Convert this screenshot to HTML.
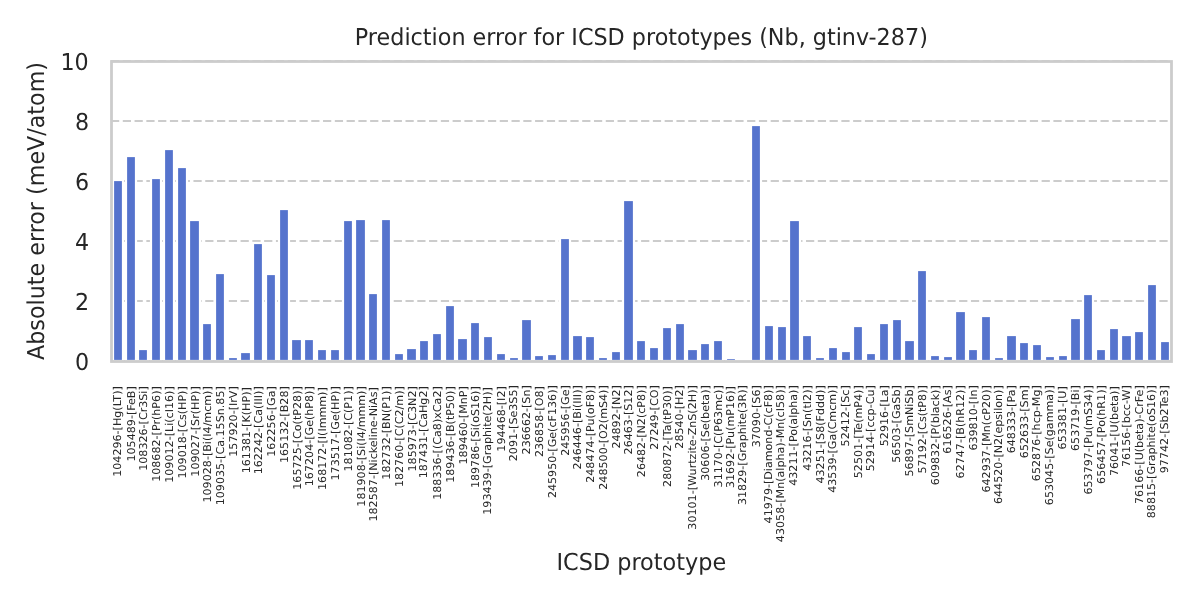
<!DOCTYPE html>
<html lang="en"><head><meta charset="utf-8">
<title>Prediction error for ICSD prototypes (Nb, gtinv-287)</title>
<style>
html,body{margin:0;padding:0;background:#fff;}
body{width:1200px;height:600px;overflow:hidden;}
svg{display:block;}
text{font-family:"DejaVu Sans","Liberation Sans",sans-serif;fill:#262626;text-rendering:geometricPrecision;}
.t{font-size:22.33px;}
.x{font-size:11.11px;text-anchor:end;}
.y{font-size:22.22px;text-anchor:end;}
.g{stroke:#cccccc;stroke-width:2.22;stroke-dasharray:8.22 3.56;fill:none;}
.b{fill:#5573cd;stroke:#fff;stroke-width:2.22;stroke-linejoin:miter;}
</style></head><body>
<svg width="1200" height="600" viewBox="0 0 1200 600">
<rect width="1200" height="600" fill="#fff"/>
<g>
<path class="g" d="M111 361H1171"/>
<path class="g" d="M111 301H1171"/>
<path class="g" d="M111 241H1171"/>
<path class="g" d="M111 181H1171"/>
<path class="g" d="M111 121H1171"/>
<path class="g" d="M111 61H1171"/>
</g>
<defs><clipPath id="ax"><rect x="111.46" y="61.47" width="1059.74" height="299.93"/></clipPath></defs>
<g clip-path="url(#ax)">
<rect class="b" x="113" y="180" width="10" height="181"/>
<rect class="b" x="126" y="156" width="10" height="205"/>
<rect class="b" x="138" y="349" width="10" height="12"/>
<rect class="b" x="151" y="178" width="10" height="183"/>
<rect class="b" x="164" y="149" width="10" height="212"/>
<rect class="b" x="177" y="167" width="10" height="194"/>
<rect class="b" x="189" y="220" width="11" height="141"/>
<rect class="b" x="202" y="323" width="10" height="38"/>
<rect class="b" x="215" y="273" width="10" height="88"/>
<rect class="b" x="228" y="357" width="10" height="4"/>
<rect class="b" x="240" y="352" width="11" height="9"/>
<rect class="b" x="253" y="243" width="10" height="118"/>
<rect class="b" x="266" y="274" width="10" height="87"/>
<rect class="b" x="279" y="209" width="10" height="152"/>
<rect class="b" x="291" y="339" width="11" height="22"/>
<rect class="b" x="304" y="339" width="10" height="22"/>
<rect class="b" x="317" y="349" width="10" height="12"/>
<rect class="b" x="330" y="349" width="10" height="12"/>
<rect class="b" x="343" y="220" width="10" height="141"/>
<rect class="b" x="355" y="219" width="11" height="142"/>
<rect class="b" x="368" y="293" width="10" height="68"/>
<rect class="b" x="381" y="219" width="10" height="142"/>
<rect class="b" x="394" y="353" width="10" height="8"/>
<rect class="b" x="406" y="348" width="11" height="13"/>
<rect class="b" x="419" y="340" width="10" height="21"/>
<rect class="b" x="432" y="333" width="10" height="28"/>
<rect class="b" x="445" y="305" width="10" height="56"/>
<rect class="b" x="457" y="338" width="11" height="23"/>
<rect class="b" x="470" y="322" width="10" height="39"/>
<rect class="b" x="483" y="336" width="10" height="25"/>
<rect class="b" x="496" y="353" width="10" height="8"/>
<rect class="b" x="509" y="357" width="10" height="4"/>
<rect class="b" x="521" y="319" width="11" height="42"/>
<rect class="b" x="534" y="355" width="10" height="6"/>
<rect class="b" x="547" y="354" width="10" height="7"/>
<rect class="b" x="560" y="238" width="10" height="123"/>
<rect class="b" x="572" y="335" width="11" height="26"/>
<rect class="b" x="585" y="336" width="10" height="25"/>
<rect class="b" x="598" y="357" width="10" height="4"/>
<rect class="b" x="611" y="351" width="10" height="10"/>
<rect class="b" x="623" y="200" width="11" height="161"/>
<rect class="b" x="636" y="340" width="10" height="21"/>
<rect class="b" x="649" y="347" width="10" height="14"/>
<rect class="b" x="662" y="327" width="10" height="34"/>
<rect class="b" x="675" y="323" width="10" height="38"/>
<rect class="b" x="687" y="349" width="11" height="12"/>
<rect class="b" x="700" y="343" width="10" height="18"/>
<rect class="b" x="713" y="340" width="10" height="21"/>
<rect class="b" x="726" y="358" width="10" height="3"/>
<rect class="b" x="738" y="360" width="11" height="1"/>
<rect class="b" x="751" y="125" width="10" height="236"/>
<rect class="b" x="764" y="325" width="10" height="36"/>
<rect class="b" x="777" y="326" width="10" height="35"/>
<rect class="b" x="789" y="220" width="11" height="141"/>
<rect class="b" x="802" y="335" width="10" height="26"/>
<rect class="b" x="815" y="357" width="10" height="4"/>
<rect class="b" x="828" y="347" width="10" height="14"/>
<rect class="b" x="841" y="351" width="10" height="10"/>
<rect class="b" x="853" y="326" width="10" height="35"/>
<rect class="b" x="866" y="353" width="10" height="8"/>
<rect class="b" x="879" y="323" width="10" height="38"/>
<rect class="b" x="892" y="319" width="10" height="42"/>
<rect class="b" x="904" y="340" width="11" height="21"/>
<rect class="b" x="917" y="270" width="10" height="91"/>
<rect class="b" x="930" y="355" width="10" height="6"/>
<rect class="b" x="943" y="356" width="10" height="5"/>
<rect class="b" x="955" y="311" width="11" height="50"/>
<rect class="b" x="968" y="349" width="10" height="12"/>
<rect class="b" x="981" y="316" width="10" height="45"/>
<rect class="b" x="994" y="357" width="10" height="4"/>
<rect class="b" x="1006" y="335" width="11" height="26"/>
<rect class="b" x="1019" y="342" width="10" height="19"/>
<rect class="b" x="1032" y="344" width="10" height="17"/>
<rect class="b" x="1045" y="356" width="10" height="5"/>
<rect class="b" x="1058" y="355" width="10" height="6"/>
<rect class="b" x="1070" y="318" width="11" height="43"/>
<rect class="b" x="1083" y="294" width="10" height="67"/>
<rect class="b" x="1096" y="349" width="10" height="12"/>
<rect class="b" x="1109" y="328" width="10" height="33"/>
<rect class="b" x="1121" y="335" width="11" height="26"/>
<rect class="b" x="1134" y="331" width="10" height="30"/>
<rect class="b" x="1147" y="284" width="10" height="77"/>
<rect class="b" x="1160" y="341" width="10" height="20"/>
</g>
<rect x="111.5" y="61.5" width="1060.0" height="300.0" fill="none" stroke="#cccccc" stroke-width="2.78"/>
<text class="t" style="font-size:22.29px" transform="translate(641.33 45.00) scale(1 1.045)" text-anchor="middle">Prediction error for ICSD prototypes (Nb, gtinv-287)</text>
<text class="t" style="font-size:22.37px" transform="translate(641.33 570.00) scale(1 1.045)" text-anchor="middle">ICSD prototype</text>
<text class="t" style="font-size:22.22px" transform="translate(43.60 210.99) rotate(-90) scale(1 1.045)" text-anchor="middle">Absolute error (meV/atom)</text>
<g>
<text class="y" transform="translate(89.20 369.90) scale(1 1.045)">0</text>
<text class="y" transform="translate(89.20 309.91) scale(1 1.045)">2</text>
<text class="y" transform="translate(89.20 249.93) scale(1 1.045)">4</text>
<text class="y" transform="translate(89.20 189.94) scale(1 1.045)">6</text>
<text class="y" transform="translate(89.20 129.96) scale(1 1.045)">8</text>
<text class="y" transform="translate(88.75 69.57) scale(1 1.045)">10</text>
</g>
<g>
<text class="x" transform="translate(121.05 386.20) rotate(-90) scale(1 0.97)">104296-[Hg(LT)]</text>
<text class="x" transform="translate(135.05 386.20) rotate(-90) scale(1 0.97)">105489-[FeB]</text>
<text class="x" transform="translate(147.05 386.20) rotate(-90) scale(1 0.97)">108326-[Cr3Si]</text>
<text class="x" transform="translate(160.05 386.20) rotate(-90) scale(1 0.97)">108682-[Pr(hP6)]</text>
<text class="x" transform="translate(173.05 386.20) rotate(-90) scale(1 0.97)">109012-[Li(cI16)]</text>
<text class="x" transform="translate(186.05 386.20) rotate(-90) scale(1 0.97)">109018-[Cs(HP)]</text>
<text class="x" transform="translate(199.05 386.20) rotate(-90) scale(1 0.97)">109027-[Sr(HP)]</text>
<text class="x" transform="translate(211.05 386.20) rotate(-90) scale(1 0.97)">109028-[Bi(I4/mcm)]</text>
<text class="x" transform="translate(224.05 386.20) rotate(-90) scale(1 0.97)">109035-[Ca.15Sn.85]</text>
<text class="x" transform="translate(237.05 386.20) rotate(-90) scale(1 0.97)">157920-[IrV]</text>
<text class="x" transform="translate(250.05 387.20) rotate(-90) scale(1 0.97)">161381-[K(HP)]</text>
<text class="x" transform="translate(262.05 386.20) rotate(-90) scale(1 0.97)">162242-[Ca(III)]</text>
<text class="x" transform="translate(275.05 386.20) rotate(-90) scale(1 0.97)">162256-[Ga]</text>
<text class="x" transform="translate(288.05 386.20) rotate(-90) scale(1 0.97)">165132-[B28]</text>
<text class="x" transform="translate(301.05 386.20) rotate(-90) scale(1 0.97)">165725-[Co(tP28)]</text>
<text class="x" transform="translate(313.05 386.20) rotate(-90) scale(1 0.97)">167204-[Ge(hP8)]</text>
<text class="x" transform="translate(326.05 387.20) rotate(-90) scale(1 0.97)">168172-[I(Immm)]</text>
<text class="x" transform="translate(339.05 386.20) rotate(-90) scale(1 0.97)">173517-[Ge(HP)]</text>
<text class="x" transform="translate(352.05 386.20) rotate(-90) scale(1 0.97)">181082-[C(P1)]</text>
<text class="x" transform="translate(365.05 386.20) rotate(-90) scale(1 0.97)">181908-[Si(I4/mmm)]</text>
<text class="x" transform="translate(377.05 387.20) rotate(-90) scale(1 0.97)">182587-[Nickeline-NiAs]</text>
<text class="x" transform="translate(390.05 386.20) rotate(-90) scale(1 0.97)">182732-[BN(P1)]</text>
<text class="x" transform="translate(403.05 386.20) rotate(-90) scale(1 0.97)">182760-[C(C2/m)]</text>
<text class="x" transform="translate(416.05 386.20) rotate(-90) scale(1 0.97)">185973-[C3N2]</text>
<text class="x" transform="translate(427.05 386.20) rotate(-90) scale(1 0.97)">187431-[CaHg2]</text>
<text class="x" transform="translate(441.05 386.20) rotate(-90) scale(1 0.97)">188336-[(Ca8)xCa2]</text>
<text class="x" transform="translate(454.05 386.20) rotate(-90) scale(1 0.97)">189436-[B(tP50)]</text>
<text class="x" transform="translate(467.05 386.20) rotate(-90) scale(1 0.97)">189460-[MnP]</text>
<text class="x" transform="translate(479.05 386.20) rotate(-90) scale(1 0.97)">189786-[Si(oS16)]</text>
<text class="x" transform="translate(491.05 387.20) rotate(-90) scale(1 0.97)">193439-[Graphite(2H)]</text>
<text class="x" transform="translate(505.05 386.20) rotate(-90) scale(1 0.97)">194468-[I2]</text>
<text class="x" transform="translate(517.05 385.20) rotate(-90) scale(1 0.97)">2091-[Se3S5]</text>
<text class="x" transform="translate(530.05 385.20) rotate(-90) scale(1 0.97)">236662-[Sn]</text>
<text class="x" transform="translate(543.05 386.20) rotate(-90) scale(1 0.97)">236858-[O8]</text>
<text class="x" transform="translate(556.05 385.20) rotate(-90) scale(1 0.97)">245950-[Ge(cF136)]</text>
<text class="x" transform="translate(569.05 385.20) rotate(-90) scale(1 0.97)">245956-[Ge]</text>
<text class="x" transform="translate(581.05 385.20) rotate(-90) scale(1 0.97)">246446-[Bi(III)]</text>
<text class="x" transform="translate(594.05 385.20) rotate(-90) scale(1 0.97)">248474-[Pu(oF8)]</text>
<text class="x" transform="translate(607.05 385.20) rotate(-90) scale(1 0.97)">248500-[O2(mS4)]</text>
<text class="x" transform="translate(620.05 385.20) rotate(-90) scale(1 0.97)">24892-[N2]</text>
<text class="x" transform="translate(632.05 385.20) rotate(-90) scale(1 0.97)">26463-[S12]</text>
<text class="x" transform="translate(645.05 385.20) rotate(-90) scale(1 0.97)">26482-[N2(cP8)]</text>
<text class="x" transform="translate(658.05 385.20) rotate(-90) scale(1 0.97)">27249-[CO]</text>
<text class="x" transform="translate(671.05 386.20) rotate(-90) scale(1 0.97)">280872-[Ta(tP30)]</text>
<text class="x" transform="translate(683.05 385.20) rotate(-90) scale(1 0.97)">28540-[H2]</text>
<text class="x" transform="translate(696.05 385.20) rotate(-90) scale(1 0.97)">30101-[Wurtzite-ZnS(2H)]</text>
<text class="x" transform="translate(709.05 385.20) rotate(-90) scale(1 0.97)">30606-[Se(beta)]</text>
<text class="x" transform="translate(722.05 385.20) rotate(-90) scale(1 0.97)">31170-[C(P63mc)]</text>
<text class="x" transform="translate(734.05 386.20) rotate(-90) scale(1 0.97)">31692-[Pu(mP16)]</text>
<text class="x" transform="translate(746.05 385.20) rotate(-90) scale(1 0.97)">31829-[Graphite(3R)]</text>
<text class="x" transform="translate(760.05 385.20) rotate(-90) scale(1 0.97)">37090-[S6]</text>
<text class="x" transform="translate(772.05 385.20) rotate(-90) scale(1 0.97)">41979-[Diamond-C(cF8)]</text>
<text class="x" transform="translate(784.05 385.20) rotate(-90) scale(1 0.97)">43058-[Mn(alpha)-Mn(cI58)]</text>
<text class="x" transform="translate(797.05 385.20) rotate(-90) scale(1 0.97)">43211-[Po(alpha)]</text>
<text class="x" transform="translate(811.05 385.20) rotate(-90) scale(1 0.97)">43216-[Sn(tI2)]</text>
<text class="x" transform="translate(824.05 385.20) rotate(-90) scale(1 0.97)">43251-[S8(Fddd)]</text>
<text class="x" transform="translate(836.05 385.20) rotate(-90) scale(1 0.97)">43539-[Ga(Cmcm)]</text>
<text class="x" transform="translate(849.05 385.20) rotate(-90) scale(1 0.97)">52412-[Sc]</text>
<text class="x" transform="translate(862.05 385.20) rotate(-90) scale(1 0.97)">52501-[Te(mP4)]</text>
<text class="x" transform="translate(874.05 385.20) rotate(-90) scale(1 0.97)">52914-[ccp-Cu]</text>
<text class="x" transform="translate(888.05 385.20) rotate(-90) scale(1 0.97)">52916-[La]</text>
<text class="x" transform="translate(900.05 385.20) rotate(-90) scale(1 0.97)">56503-[GaSb]</text>
<text class="x" transform="translate(913.05 385.20) rotate(-90) scale(1 0.97)">56897-[SmNiSb]</text>
<text class="x" transform="translate(926.05 385.20) rotate(-90) scale(1 0.97)">57192-[Cs(tP8)]</text>
<text class="x" transform="translate(939.05 385.20) rotate(-90) scale(1 0.97)">609832-[P(black)]</text>
<text class="x" transform="translate(951.05 385.20) rotate(-90) scale(1 0.97)">616526-[As]</text>
<text class="x" transform="translate(964.05 385.20) rotate(-90) scale(1 0.97)">62747-[B(hR12)]</text>
<text class="x" transform="translate(977.05 385.20) rotate(-90) scale(1 0.97)">639810-[In]</text>
<text class="x" transform="translate(990.05 385.20) rotate(-90) scale(1 0.97)">642937-[Mn(cP20)]</text>
<text class="x" transform="translate(1002.05 385.20) rotate(-90) scale(1 0.97)">644520-[N2(epsilon)]</text>
<text class="x" transform="translate(1015.05 385.20) rotate(-90) scale(1 0.97)">648333-[Pa]</text>
<text class="x" transform="translate(1028.05 385.20) rotate(-90) scale(1 0.97)">652633-[Sm]</text>
<text class="x" transform="translate(1040.05 385.20) rotate(-90) scale(1 0.97)">652876-[hcp-Mg]</text>
<text class="x" transform="translate(1053.05 385.20) rotate(-90) scale(1 0.97)">653045-[Se(gamma)]</text>
<text class="x" transform="translate(1066.05 386.20) rotate(-90) scale(1 0.97)">653381-[U]</text>
<text class="x" transform="translate(1079.05 385.20) rotate(-90) scale(1 0.97)">653719-[Bi]</text>
<text class="x" transform="translate(1092.05 385.20) rotate(-90) scale(1 0.97)">653797-[Pu(mS34)]</text>
<text class="x" transform="translate(1105.05 385.20) rotate(-90) scale(1 0.97)">656457-[Po(hR1)]</text>
<text class="x" transform="translate(1118.05 386.20) rotate(-90) scale(1 0.97)">76041-[U(beta)]</text>
<text class="x" transform="translate(1130.05 385.20) rotate(-90) scale(1 0.97)">76156-[bcc-W]</text>
<text class="x" transform="translate(1143.05 385.20) rotate(-90) scale(1 0.97)">76166-[U(beta)-CrFe]</text>
<text class="x" transform="translate(1155.05 385.20) rotate(-90) scale(1 0.97)">88815-[Graphite(oS16)]</text>
<text class="x" transform="translate(1168.05 385.20) rotate(-90) scale(1 0.97)">97742-[Sb2Te3]</text>
</g>
</svg></body></html>
